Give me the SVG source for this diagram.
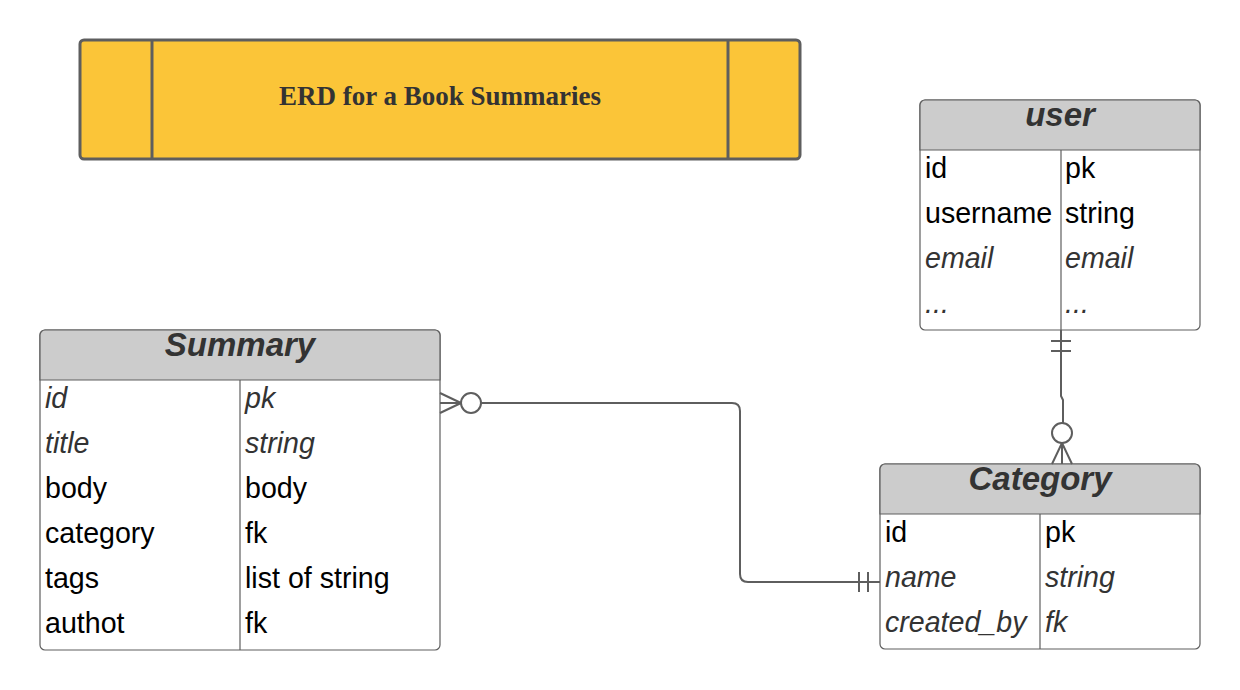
<svg xmlns="http://www.w3.org/2000/svg" width="1240" height="690" viewBox="0 0 1240 690">
<style>
.frame{fill:#ffffff;stroke:#5e5e5e;stroke-width:1.2}
.hdr{fill:#cccccc;stroke:#5e5e5e;stroke-width:1.2}
.div{stroke:#5e5e5e;stroke-width:1.2;fill:none}
.t{font-family:"Liberation Sans",Arial,sans-serif;font-size:28.6px;fill:#000}
.ti{font-family:"Liberation Sans",Arial,sans-serif;font-size:28.6px;font-style:italic;fill:#333}
.h{font-family:"Liberation Sans",Arial,sans-serif;font-size:33px;font-weight:bold;font-style:italic;fill:#333;text-anchor:middle}
.c{stroke:#5e5e5e;stroke-width:2;fill:none}
</style>
<rect width="1240" height="690" fill="#ffffff"/>
<g id="title">
<rect x="80" y="40" width="720" height="119" rx="4" fill="#fbc538" stroke="#5e5e5e" stroke-width="3"/>
<line x1="152" y1="40" x2="152" y2="159" stroke="#5e5e5e" stroke-width="3"/>
<line x1="728" y1="40" x2="728" y2="159" stroke="#5e5e5e" stroke-width="3"/>
<text x="440" y="105" text-anchor="middle" font-family="Liberation Serif,serif" font-weight="bold" font-size="27" fill="#333">ERD for a Book Summaries</text>
</g>
<g id="user">
<rect class="frame" x="920" y="100" width="280" height="230" rx="5"/>
<path class="hdr" d="M925 100 H1195 A5 5 0 0 1 1200 105 V150 H920 V105 A5 5 0 0 1 925 100 Z"/>
<line class="div" x1="1061" y1="150" x2="1061" y2="330"/>
<text class="h" x="1060" y="126">user</text>
<text class="t" x="925" y="178">id</text><text class="t" x="1065" y="178">pk</text>
<text class="t" x="925" y="223">username</text><text class="t" x="1065" y="223">string</text>
<text class="ti" x="925" y="268">email</text><text class="ti" x="1065" y="268">email</text>
<text class="ti" x="925" y="313">...</text><text class="ti" x="1065" y="313">...</text>
</g>
<g id="summary">
<rect class="frame" x="40" y="330" width="400" height="320" rx="5"/>
<path class="hdr" d="M45 330 H435 A5 5 0 0 1 440 335 V380 H40 V335 A5 5 0 0 1 45 330 Z"/>
<line class="div" x1="240" y1="380" x2="240" y2="650"/>
<text class="h" x="240" y="356">Summary</text>
<text class="ti" x="45" y="408">id</text><text class="ti" x="245" y="408">pk</text>
<text class="ti" x="45" y="453">title</text><text class="ti" x="245" y="453">string</text>
<text class="t" x="45" y="498">body</text><text class="t" x="245" y="498">body</text>
<text class="t" x="45" y="543">category</text><text class="t" x="245" y="543">fk</text>
<text class="t" x="45" y="588">tags</text><text class="t" x="245" y="588">list of string</text>
<text class="t" x="45" y="633">authot</text><text class="t" x="245" y="633">fk</text>
</g>
<g id="category">
<rect class="frame" x="880" y="464" width="320" height="185" rx="5"/>
<path class="hdr" d="M885 464 H1195 A5 5 0 0 1 1200 469 V514 H880 V469 A5 5 0 0 1 885 464 Z"/>
<line class="div" x1="1040" y1="514" x2="1040" y2="649"/>
<text class="h" x="1040" y="490">Category</text>
<text class="t" x="885" y="542">id</text><text class="t" x="1045" y="542">pk</text>
<text class="ti" x="885" y="587">name</text><text class="ti" x="1045" y="587">string</text>
<text class="ti" x="885" y="632">created_by</text><text class="ti" x="1045" y="632">fk</text>
</g>
<g id="connectors">
<path class="c" d="M440 393 L461 403 M440 403 H461 M440 413 L461 403"/>
<circle class="c" cx="471" cy="403" r="10"/>
<path class="c" d="M481 403 H732 Q740 403 740 411 V574 Q740 582 748 582 H880"/>
<path class="c" d="M859 572 V592 M868 572 V592"/>
<path class="c" d="M1061 330 V396 L1063 400 V423"/>
<path class="c" d="M1051 341 H1071 M1051 351 H1071"/>
<circle class="c" cx="1062" cy="433" r="10"/>
<path class="c" d="M1062 443 L1052 464 M1062 443 V464 M1062 443 L1072 464"/>
</g>
</svg>
